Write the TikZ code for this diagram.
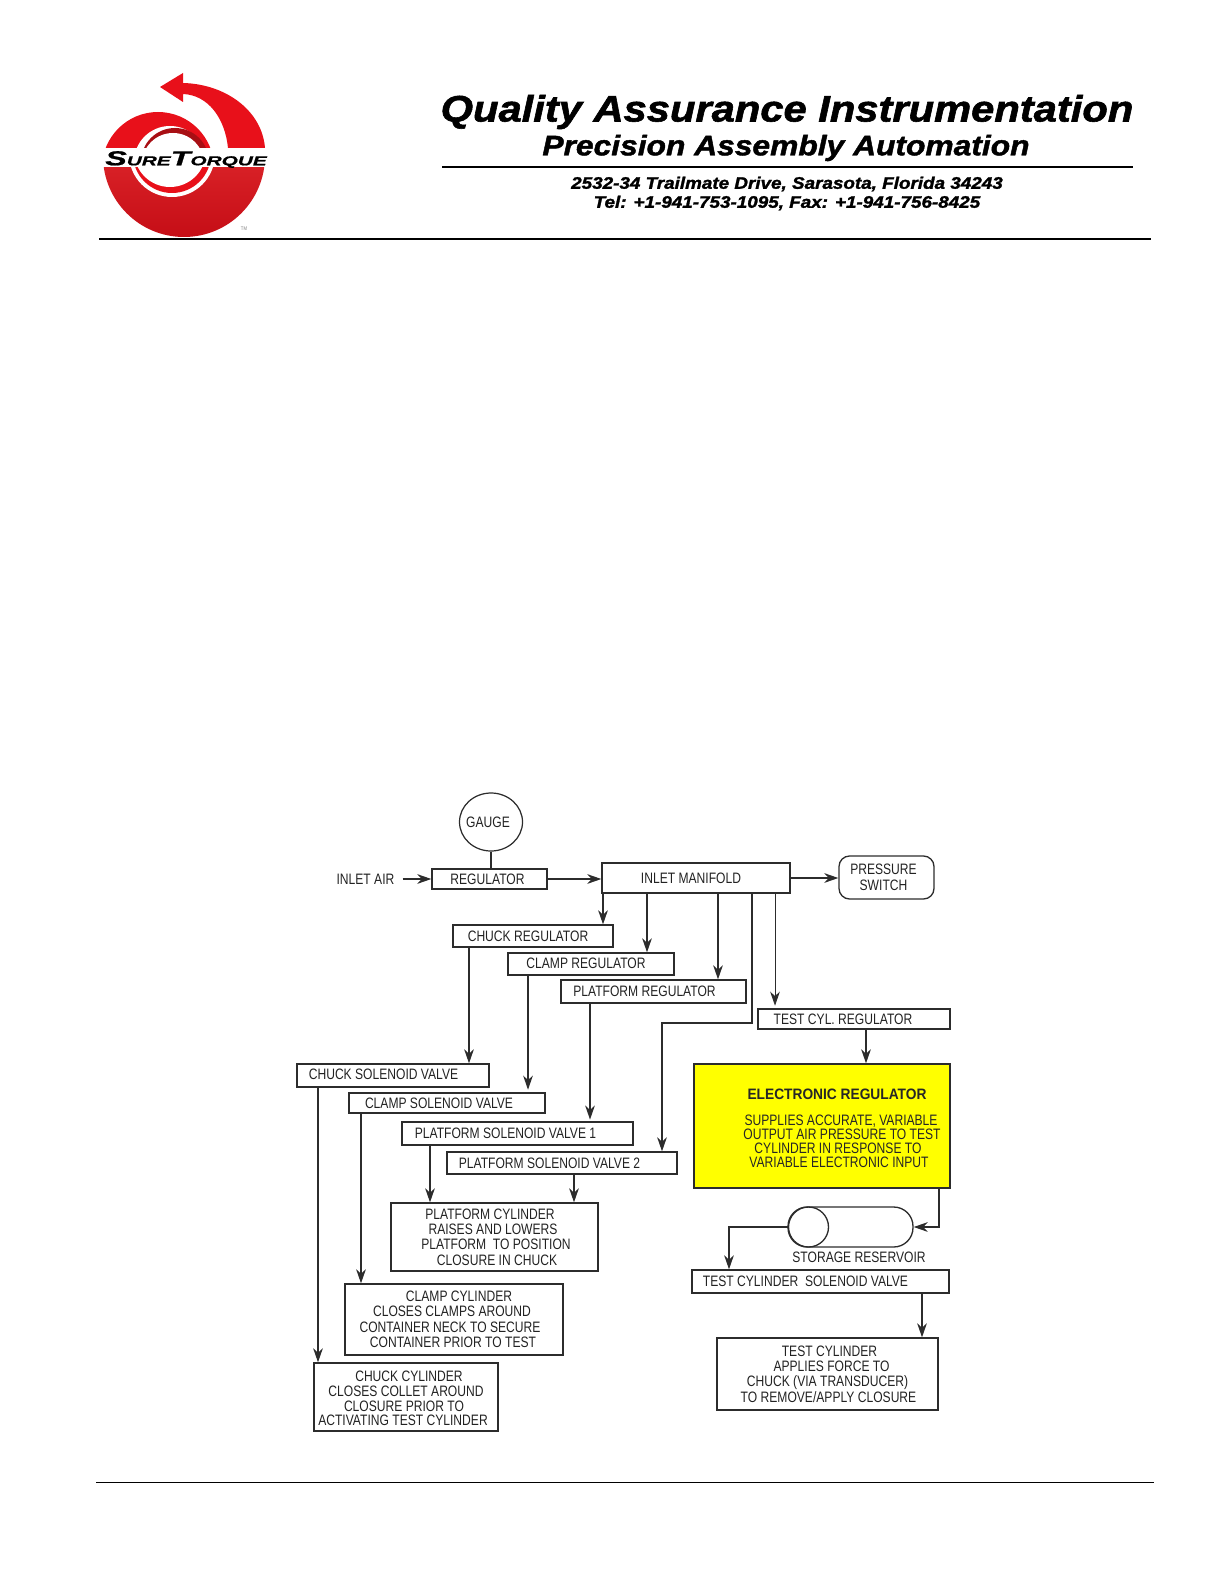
\documentclass[tikz,border=0pt]{standalone}
\usepackage{fontspec}
\setmainfont[FakeStretch=0.8]{Liberation Sans}
\newfontfamily\headfont[FakeBold=1.6,FakeStretch=1.13]{Liberation Sans}
\newfontfamily\logofont[FakeBold=1,FakeStretch=1.6]{Liberation Sans}
\newfontfamily\elecfont[FakeStretch=0.91]{Liberation Sans}
\usepackage{xcolor}
\usetikzlibrary{shapes.geometric, arrows.meta, calc}
\definecolor{inkline}{HTML}{2C2C2C}
\definecolor{inktext}{HTML}{222222}
\definecolor{logored}{HTML}{E8101A}
\definecolor{logodark}{HTML}{A80F14}
\definecolor{logolight}{HTML}{F0383A}
\definecolor{elecyellow}{HTML}{FFFF00}
\newdimen\pxunit
\pxunit=0.02cm
\newcommand{\nudge}[1]{\hspace*{#1\pxunit}}

\begin{document}
\begin{tikzpicture}[
  x=0.02cm, y=-0.02cm,
  lbl/.style={align=center, inner sep=0pt, text=inktext, font=\fontsize{8.6}{8.8}\selectfont},
  box/.style 2 args={lbl, draw=inkline, line width=0.75pt, minimum width=#1*0.02cm, minimum height=#2*0.02cm},
  flow/.style={draw=inkline, line width=0.8pt, -{Stealth[length=8pt, width=5.5pt, inset=2.5pt]}},
  rule/.style={draw=black, line width=0.8pt},
  head/.style={inner sep=0pt, text=black},
]
\useasboundingbox (0,0) rectangle (1224,1584);

% letterhead
\begin{scope}
  \clip (90,60) rectangle (280,148);
  \fill[logored] (158,168) circle (56);
  \fill[white] (170,162) circle (36);
  \fill[logodark] (175,162) circle (34);
  \fill[white] (173,164) circle (31);
\end{scope}
\fill[logored] (160,87) -- (183,73) -- (183,83) .. controls (225,84) and (262,110) .. (265,148)
  -- (228,148) .. controls (225,118) and (208,95) .. (183,94) -- (183,102) -- cycle;
\begin{scope}
  \clip (90,168) rectangle (280,245);
  \shade[top color=logolight, bottom color=logored!85!black] (184,156) circle (81);
  \fill[white] (172,154) circle (43);
  \fill[logored] (172,154) circle (39);
  \fill[white] (170,151) circle (36);
\end{scope}
\node[head, font=\logofont\bfseries\itshape\fontsize{7.4}{8}\selectfont] (logoname) at (186,159.5)
  {{\fontsize{11.5}{8}\selectfont S}URE{\fontsize{11.5}{8}\selectfont T}ORQUE};
\node[head, font=\fontsize{3}{3}\selectfont, text=gray] (logotm) at (244,229) {TM};
\node[head, font=\headfont\bfseries\itshape\fontsize{21}{22}\selectfont] (title) at (787,112) {Quality Assurance Instrumentation};
\node[head, font=\headfont\bfseries\itshape\fontsize{16}{17}\selectfont] (subtitle) at (786,148) {Precision Assembly Automation};
\node[head, font=\headfont\bfseries\itshape\fontsize{9.5}{10}\selectfont] (address) at (787,184) {2532-34 Trailmate Drive, Sarasota, Florida 34243};
\node[head, font=\headfont\bfseries\itshape\fontsize{9.5}{10}\selectfont] (phone) at (787,203) {Tel: +1-941-753-1095, Fax: +1-941-756-8425};
\draw[rule] (442,167) -- (1133,167);
\draw[rule] (99,239) -- (1151,239);
\draw[rule, line width=0.5pt] (96,1482) -- (1154,1482);

% top row
\node[lbl, inner xsep=8*0.02cm] (inletair) at (365.5,879) {INLET AIR};
\node[box={115}{20}] (regulator) at (489.5,879) {\nudge{-4}REGULATOR};
\node[lbl, draw=inkline, line width=0.7pt, ellipse, minimum width=63*0.02cm, minimum height=58*0.02cm] (gauge) at (491,822) {\nudge{-6}GAUGE};
\node[box={188}{30}] (manifold) at (696,878) {\nudge{-10}\raisebox{-1pt}{INLET MANIFOLD}};
\node[box={95}{43}, rounded corners=6pt] (pressure) at (886.5,877.5) {\nudge{-6}PRESSURE\\\nudge{-6}SWITCH};

% regulators
\node[box={160}{22}] (chuckreg) at (533,936) {\nudge{-10}CHUCK REGULATOR};
\node[box={166}{22}] (clampreg) at (591,964) {\nudge{-10}\raisebox{0.5pt}{CLAMP REGULATOR}};
\node[box={185}{23}] (platreg)  at (653.5,991.5) {\nudge{-18}\raisebox{-1pt}{PLATFORM REGULATOR}};
\node[box={192}{20}] (testreg)  at (854,1019) {\nudge{-22}TEST CYL. REGULATOR};
\node[box={256}{124}, fill=elecyellow, text=black!85] (elecreg) at (822,1126)
  {\nudge{30}{\elecfont\bfseries\rule{0pt}{9pt}ELECTRONIC REGULATOR}\\[5.9pt]
   \nudge{38}SUPPLIES ACCURATE, VARIABLE\\[-0.8pt] \nudge{40}OUTPUT AIR PRESSURE TO TEST\\[-0.8pt]
   \nudge{32}CYLINDER IN RESPONSE TO\\[-0.8pt] \nudge{34}VARIABLE ELECTRONIC INPUT};

% solenoid valves
\node[box={192}{23}] (chucksol)   at (393,1075.5) {\nudge{-19}\raisebox{1pt}{CHUCK SOLENOID VALVE}};
\node[box={196}{20}] (clampsol)   at (447,1103)   {\nudge{-16}CLAMP SOLENOID VALVE};
\node[box={231}{23}] (platsolone) at (517.5,1133.5) {\nudge{-24}PLATFORM SOLENOID VALVE 1};
\node[box={230}{22}] (platsoltwo) at (562,1163)   {\nudge{-25}PLATFORM SOLENOID VALVE 2};

% cylinders
\node[box={207}{68}] (platcyl) at (494.5,1237)
  {\nudge{-9}PLATFORM CYLINDER\\ \nudge{-3}RAISES AND LOWERS\\ \nudge{3}PLATFORM\ \ TO POSITION\\ \nudge{5}CLOSURE IN CHUCK};
\node[box={218}{71}] (clampcyl) at (454,1319.5)
  {\nudge{10}CLAMP CYLINDER\\ \nudge{-4}CLOSES CLAMPS AROUND\\ \nudge{-8}CONTAINER NECK TO SECURE\\ \nudge{-2}CONTAINER PRIOR TO TEST};
\node[box={184}{68}] (chuckcyl) at (406,1397)
  {\nudge{6}\rule{0pt}{7.5pt}CHUCK CYLINDER\\[-0.4pt] CLOSES COLLET AROUND\\[-0.4pt] \nudge{-4}CLOSURE PRIOR TO\\[-0.8pt] \nudge{-6}ACTIVATING TEST CYLINDER};

% right column
\node[box={125}{40}, rounded corners=11pt] (reservoir) at (850.5,1227) {};
\node[draw=inkline, line width=0.75pt, circle, inner sep=0pt, minimum size=40*0.02cm] (tankend) at (808.5,1227) {};
\node[lbl] (tanklbl) at (859,1257) {STORAGE RESERVOIR};
\node[box={257}{23}] (testsol) at (820.5,1281.5) {\nudge{-30}\raisebox{-2.4pt}{TEST CYLINDER\ \ SOLENOID VALVE}};
\node[box={221}{72}] (testcyl) at (827.5,1374)
  {\nudge{4}TEST CYLINDER\\ \nudge{8}APPLIES FORCE TO\\ CHUCK (VIA TRANSDUCER)\\ \nudge{2}TO REMOVE/APPLY CLOSURE};

\coordinate (bend) at (662,1023);
\draw[draw=inkline, line width=0.8pt] (gauge.south) -- (regulator.north -| gauge.south);
\draw[flow] (inletair.east) -- (regulator.west);
\draw[flow] (regulator.east) -- (manifold.west |- regulator.east);
\draw[flow] (manifold.east |- 0,878) -- (pressure.west |- 0,878);
\draw[flow] (manifold.south -| 603,0) -- (chuckreg.north -| 603,0);
\draw[flow] (manifold.south -| 647,0) -- (clampreg.north -| 647,0);
\draw[flow] (manifold.south -| 718,0) -- (platreg.north -| 718,0);
\draw[flow] (manifold.south -| 752,0) |- (bend) -- (platsoltwo.north -| bend);
\draw[flow, line width=0.5pt, shorten >=1.5pt] (manifold.south -| 775,0) -- (testreg.north -| 775,0);
\draw[flow] (testreg.south -| 866,0) -- (elecreg.north -| 866,0);
\draw[flow] (chuckreg.south -| 469,0) -- (chucksol.north -| 469,0);
\draw[flow, shorten >=1.5pt] (clampreg.south -| 528,0) -- (clampsol.north -| 528,0);
\draw[flow, shorten >=1pt] (platreg.south -| 590,0) -- (platsolone.north -| 590,0);
\draw[flow] (platsolone.south -| 430,0) -- (platcyl.north -| 430,0);
\draw[flow] (platsoltwo.south -| 574,0) -- (platcyl.north -| 574,0);
\draw[flow] (clampsol.south -| 361,0) -- (clampcyl.north -| 361,0);
\draw[flow] (chucksol.south -| 318,0) -- (chuckcyl.north -| 318,0);
\draw[flow] (elecreg.south -| 939,0) |- (reservoir.east);
\draw[flow] (tankend.west) -| (testsol.north -| 729,0);
\draw[flow] (testsol.south -| 922,0) -- (testcyl.north -| 922,0);
\end{tikzpicture}
\end{document}
